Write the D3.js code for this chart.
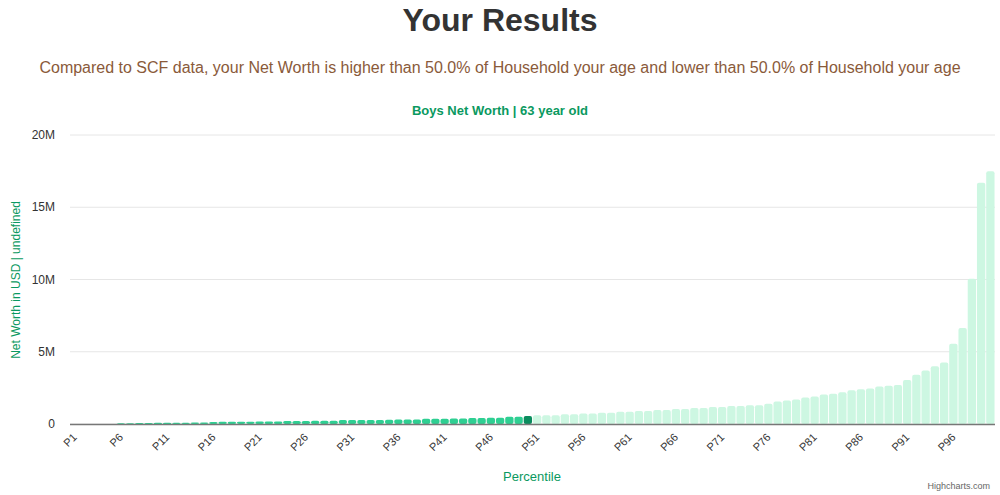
<!DOCTYPE html>
<html><head><meta charset="utf-8">
<script src="https://cdn.jsdelivr.net/npm/d3@7"></script>
<style>body{margin:0;font-family:"Liberation Sans",Arial,sans-serif;background:#fff}</style>
</head><body><svg id="c" width="1000" height="495"></svg>
<script>
// net worth in millions USD, P1..P100
var values = [
  0, 0, 0, 0, 0, 0.06, 0.06, 0.07, 0.07, 0.08,
  0.08, 0.09, 0.09, 0.1, 0.1, 0.14, 0.15, 0.15, 0.16, 0.16,
  0.17, 0.17, 0.18, 0.2, 0.21, 0.21, 0.22, 0.22, 0.22, 0.27,
  0.27, 0.27, 0.28, 0.28, 0.3, 0.31, 0.32, 0.32, 0.36, 0.37,
  0.37, 0.38, 0.38, 0.42, 0.42, 0.43, 0.43, 0.5, 0.5, 0.55,
  0.6, 0.6, 0.6, 0.67, 0.67, 0.72, 0.72, 0.78, 0.78, 0.85,
  0.85, 0.9, 0.9, 0.97, 0.97, 1.03, 1.03, 1.1, 1.1, 1.17,
  1.17, 1.25, 1.25, 1.3, 1.3, 1.4, 1.55, 1.62, 1.7, 1.83,
  1.9, 2.05, 2.1, 2.2, 2.33, 2.4, 2.45, 2.6, 2.65, 2.7,
  3.05, 3.4, 3.7, 4.0, 4.25, 5.55, 6.65, 10.05, 16.7, 17.5
];
var labels = values.map(function(d, i){ return "P" + (i + 1); });
var yTicks = [0, 5, 10, 15, 20];
var userIndex = 49;

var svg = d3.select("#c");
var m = {left: 70, right: 995, top: 135, bottom: 424};

svg.append("text").attr("x", 500).attr("y", 31).attr("text-anchor", "middle")
  .attr("font-size", 32).attr("font-weight", "bold").attr("fill", "#333").text("Your Results");
svg.append("text").attr("x", 500).attr("y", 73).attr("text-anchor", "middle")
  .attr("font-size", 16).attr("fill", "#8a5a3a")
  .text("Compared to SCF data, your Net Worth is higher than 50.0% of Household your age and lower than 50.0% of Household your age");
svg.append("text").attr("x", 500).attr("y", 115).attr("text-anchor", "middle")
  .attr("font-size", 13).attr("font-weight", "bold").attr("fill", "#0a9960").text("Boys Net Worth | 63 year old");

var x = d3.scaleBand().domain(labels).range([m.left, m.right]).paddingInner(0.1).paddingOuter(0.05);
var y = d3.scaleLinear().domain([0, 20]).range([m.bottom, m.top]);

svg.append("g").selectAll("line").data(yTicks).enter().append("line")
  .attr("x1", m.left).attr("x2", m.right)
  .attr("y1", function(d){ return y(d); }).attr("y2", function(d){ return y(d); })
  .attr("stroke", "#e6e6e6");
svg.append("g").selectAll("text").data(yTicks).enter().append("text")
  .attr("x", 55).attr("y", function(d){ return y(d) + 4; }).attr("text-anchor", "end")
  .attr("font-size", 12).attr("fill", "#333")
  .text(function(d){ return d === 0 ? "0" : d + "M"; });

svg.append("g").selectAll("rect").data(values).enter().append("rect")
  .attr("x", function(d, i){ return x(labels[i]); })
  .attr("y", function(d){ return y(d); })
  .attr("width", x.bandwidth())
  .attr("height", function(d){ return m.bottom - y(d); })
  .attr("rx", 2)
  .attr("fill", function(d, i){ return i < userIndex ? "#2ecf92" : i === userIndex ? "#0b8c5e" : "#cdf7e2"; });

svg.append("line").attr("x1", m.left).attr("x2", m.right).attr("y1", m.bottom + 0.5).attr("y2", m.bottom + 0.5)
  .attr("stroke", "#777").attr("stroke-width", 1.5);

svg.append("g").selectAll("text").data(labels.filter(function(d, i){ return i % 5 === 0; })).enter().append("text")
  .attr("transform", function(d){ return "translate(" + (x(d) + x.bandwidth() / 2 + 3) + "," + (m.bottom + 14) + ") rotate(-45)"; })
  .attr("text-anchor", "end").attr("font-size", 11).attr("fill", "#333").text(function(d){ return d; });

svg.append("text").attr("x", 532).attr("y", 481).attr("text-anchor", "middle")
  .attr("font-size", 13).attr("fill", "#0a9960").text("Percentile");
svg.append("text").attr("transform", "translate(20,280) rotate(-90)").attr("text-anchor", "middle")
  .attr("font-size", 12).attr("fill", "#0a9960").text("Net Worth in USD | undefined");
svg.append("text").attr("x", 990).attr("y", 489).attr("text-anchor", "end")
  .attr("font-size", 9).attr("fill", "#666").text("Highcharts.com");
</script></body></html>
